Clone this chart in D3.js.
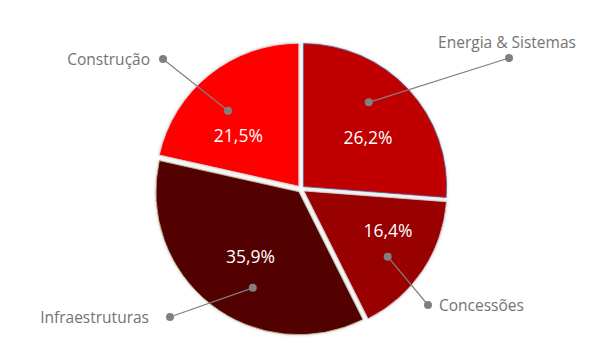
<!DOCTYPE html>
<html><head><meta charset="utf-8">
<script src="https://cdn.jsdelivr.net/npm/d3@7"></script>
<style>html,body{margin:0;padding:0;background:#fff;}svg{display:block;}</style>
</head><body>
<svg id="chart" width="615" height="354"></svg>
<script>
const categories = ["Energia & Sistemas", "Concessões", "Infraestruturas", "Construção"];
const values = [26.2, 16.4, 35.9, 21.5];
const valueLabels = ["26,2%", "16,4%", "35,9%", "21,5%"];
const colors = ["#C00000", "#990000", "#520000", "#FF0000"];

// layout (polar positions relative to pie centre, angle in degrees clockwise from top)
const layout = {
  cx: 301, cy: 189, r: 143, explode: 3.5,
  textPolar: [[85, 52], [96, 115], [84, 217], [83, 311]],
  innerDot: [[110, 38], [110, 128], [110, 206], [107, 317]],
  outerDot: [[509, 58], [428, 305], [170, 317], [163, 59]],
  labelPos: [[507, 42, "middle"], [439, 305, "start"], [149, 317, "end"], [150, 59, "end"]]
};

const svg = d3.select("#chart");
const g = svg.append("g").attr("transform", `translate(${layout.cx},${layout.cy})`);

const pie = d3.pie().sort(null).value(d => d)(values);
const arc = d3.arc().innerRadius(0).outerRadius(layout.r);

const defs = svg.append("defs");
const f = defs.append("filter").attr("id", "glow").attr("x", "-10%").attr("y", "-10%").attr("width", "120%").attr("height", "120%");
f.append("feGaussianBlur").attr("in", "SourceAlpha").attr("stdDeviation", 1.5).attr("result", "b");
f.append("feFlood").attr("flood-color", "#a0a0a0").attr("flood-opacity", 0.6);
f.append("feComposite").attr("in2", "b").attr("operator", "in").attr("result", "s");
const m = f.append("feMerge");
m.append("feMergeNode").attr("in", "s");
m.append("feMergeNode").attr("in", "SourceGraphic");

const pol = (rad, deg) => {
  const a = deg * Math.PI / 180;
  return [rad * Math.sin(a), -rad * Math.cos(a)];
};

const strokes = ["#5a5a9a", "#d8d8d8", "#c8c8a0", "#e0e0e0"];
g.selectAll("path.slice").data(pie).join("path")
  .attr("class", "slice")
  .attr("d", arc)
  .attr("fill", (d, i) => colors[i])
  .attr("stroke", (d, i) => strokes[i])
  .attr("stroke-width", 0.8)
  .attr("filter", "url(#glow)")
  .attr("transform", d => {
    const mid = (d.startAngle + d.endAngle) / 2;
    return `translate(${layout.explode * Math.sin(mid)},${-layout.explode * Math.cos(mid)})`;
  });

// leader lines and dots
pie.forEach((d, i) => {
  const [ix, iy] = pol(layout.innerDot[i][0], layout.innerDot[i][1]);
  const ox = layout.outerDot[i][0] - layout.cx, oy = layout.outerDot[i][1] - layout.cy;
  g.append("line").attr("x1", ix).attr("y1", iy).attr("x2", ox).attr("y2", oy)
    .attr("stroke", "#808080").attr("stroke-width", 1.2);
  g.append("circle").attr("cx", ix).attr("cy", iy).attr("r", 4).attr("fill", "#808080");
  g.append("circle").attr("cx", ox).attr("cy", oy).attr("r", 4).attr("fill", "#808080");
});

// value labels
g.selectAll("text.val").data(pie).join("text")
  .attr("class", "val")
  .attr("x", (d, i) => pol(layout.textPolar[i][0], layout.textPolar[i][1])[0])
  .attr("y", (d, i) => pol(layout.textPolar[i][0], layout.textPolar[i][1])[1])
  .attr("text-anchor", "middle").attr("dominant-baseline", "central")
  .attr("font-family", "'Open Sans', sans-serif").attr("font-size", 17.5)
  .attr("fill", "#ffffff")
  .text((d, i) => valueLabels[i]);

// category labels
svg.selectAll("text.cat").data(categories).join("text")
  .attr("class", "cat")
  .attr("x", (d, i) => layout.labelPos[i][0])
  .attr("y", (d, i) => layout.labelPos[i][1])
  .attr("text-anchor", (d, i) => layout.labelPos[i][2])
  .attr("dominant-baseline", "central")
  .attr("font-family", "'Open Sans', sans-serif").attr("font-size", 15.5)
  .attr("fill", "#737373")
  .text(d => d);
</script>
</body></html>
